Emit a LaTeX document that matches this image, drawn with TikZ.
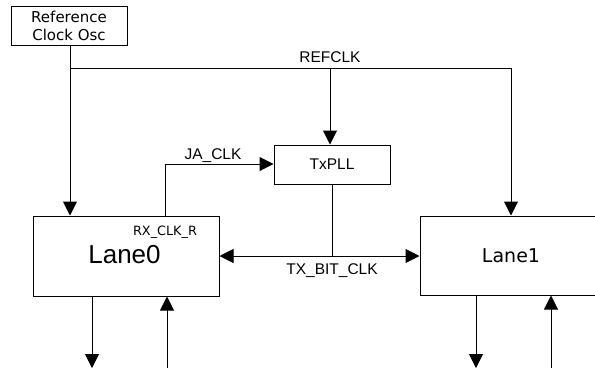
\documentclass[tikz,border=0pt]{standalone}
\usepackage{fontspec}
\setmainfont{Liberation Sans}
\newfontfamily\verd{DejaVu Sans}
\usetikzlibrary{arrows.meta}
\begin{document}
\begin{tikzpicture}[x=1pt,y=-1pt,
  box/.style={draw,line width=1pt,inner sep=0pt},
  conn/.style={line width=1pt},
  arr/.style={conn,-{Triangle[length=14pt,width=14pt]}},
  lbl/.style={inner sep=0pt,font=\fontsize{15.5}{17}\selectfont}]
\useasboundingbox (0,0) rectangle (595,368);
\node[box,minimum width=116pt,minimum height=39pt,align=center,font=\verd\fontsize{15}{18}\selectfont] (osc) at (69,25.5) {Reference\\Clock Osc};
\node[box,minimum width=116pt,minimum height=39pt,font=\fontsize{15.5}{17}\selectfont] (pll) at (332,164.5) {TxPLL};
\node[box,minimum width=186pt,minimum height=80pt] (l0) at (126,256) {};
\node[font=\fontsize{26}{28}\selectfont] (l0t) at (124.5,255) {Lane0};
\node[font=\verd\fontsize{12.8}{14}\selectfont,inner sep=0pt] (rx) at (165,232) {RX\_CLK\_R};
\node[box,minimum width=180pt,minimum height=79pt] (l1) at (510,255.5) {};
\node[font=\verd\fontsize{19}{21}\selectfont] (l1t) at (511,256) {Lane1};
\coordinate (j) at (70,68);
\coordinate (r) at (511,68);
\coordinate (p) at (330,68);
\coordinate (t) at (332,256);
\draw[conn] (osc.south -| j) -- (j) -- (r);
\draw[arr] (j) -- (j |- l0.north);
\draw[arr] (p) -- (p |- pll.north);
\draw[arr] (r) -- (r |- l1.north);
\node[lbl] (refclk) at (330,57) {REFCLK};
\coordinate (ja) at (165,164);
\draw[arr] (ja |- l0.north) -- (ja) -- (pll.west |- ja);
\node[lbl] (jal) at (213,156) {JA\_CLK};
\draw[conn] (pll.south -| t) -- (t);
\draw[arr] (t) -- (l0.east |- t);
\draw[arr] (t) -- (l1.west |- t);
\node[lbl] (txl) at (332,271) {TX\_BIT\_CLK};
\coordinate (b0) at (92,368);
\coordinate (b1) at (167,368);
\coordinate (b2) at (476,368);
\coordinate (b3) at (551,368);
\draw[arr] (b0 |- l0.south) -- (b0);
\draw[arr] (b1) -- (b1 |- l0.south);
\draw[arr] (b2 |- l1.south) -- (b2);
\draw[arr] (b3) -- (b3 |- l1.south);
\end{tikzpicture}
\end{document}
